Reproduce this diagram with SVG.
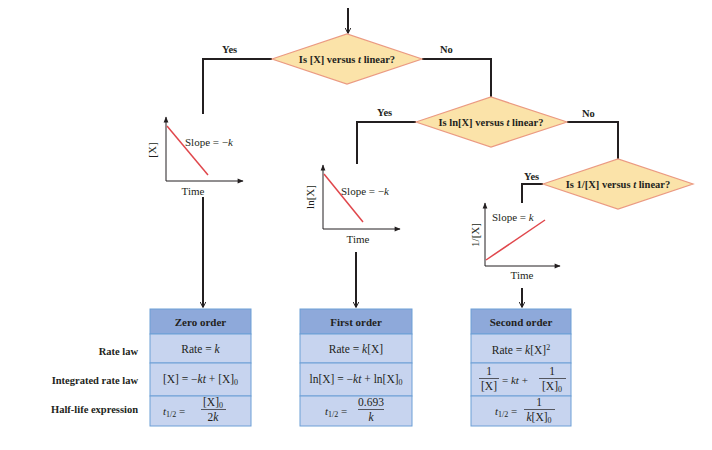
<svg xmlns="http://www.w3.org/2000/svg" width="712" height="450" viewBox="0 0 712 450">
<style>
text{font-family:"Liberation Serif","Times New Roman",serif;fill:#231f20}
.b{font-weight:bold;font-size:10.5px}
.q{font-weight:bold;font-size:10.5px;text-anchor:middle}
.h{font-weight:bold;font-size:11px;text-anchor:middle}
.lab{font-weight:bold;font-size:10.5px;text-anchor:end}
.t{font-size:11.5px;text-anchor:middle}
.g{font-size:11px;text-anchor:middle}
.s{font-size:11px}
.i{font-style:italic}
.dia{fill:#fbe3a9;stroke:#eb9a82;stroke-width:1.2}
.conn{fill:none;stroke:#231f20;stroke-width:2}
.ax{fill:none;stroke:#231f20;stroke-width:1}
.red{stroke:#e0474c;stroke-width:1.5}
.hd{fill:#8ea9da;stroke:#6d9fd6;stroke-width:1}
.row{fill:#c7d4ef;stroke:#6d9fd6;stroke-width:1}
.fr{stroke:#231f20;stroke-width:0.7}
</style>
<defs>
<marker id="ah" viewBox="0 0 10 10" refX="9" refY="5" markerWidth="6" markerHeight="6" orient="auto" markerUnits="userSpaceOnUse">
<path d="M0,0 L10,5 L0,10" fill="none" stroke="#231f20" stroke-width="1.6"/>
</marker>
<marker id="axh" viewBox="0 0 10 10" refX="9" refY="5" markerWidth="7" markerHeight="6" orient="auto" markerUnits="userSpaceOnUse">
<path d="M0,1 L10,5 L0,9 Z" fill="#231f20"/>
</marker>
</defs>
<g id="connectors">
<line class="conn" x1="348" y1="8" x2="348" y2="33" marker-end="url(#ah)"/>
<polyline class="conn" points="272,59 203,59 203,114"/>
<polyline class="conn" points="422,59 491,59 491,97"/>
<polyline class="conn" points="416,122 357,122 357,164"/>
<polyline class="conn" points="567,122 618,122 618,159"/>
<polyline class="conn" points="543,184 522,184 522,203"/>
<line class="conn" x1="203" y1="197" x2="203" y2="307" marker-end="url(#ah)"/>
<line class="conn" x1="356" y1="252" x2="356" y2="307" marker-end="url(#ah)"/>
<line class="conn" x1="522" y1="288" x2="522" y2="307" marker-end="url(#ah)"/>
<text class="b" x="222" y="53">Yes</text>
<text class="b" x="440" y="53">No</text>
<text class="b" x="377" y="116">Yes</text>
<text class="b" x="582" y="117">No</text>
<text class="b" x="524" y="180">Yes</text>
</g>
<g id="q1">
<polygon class="dia" points="272,59 347,34 422,59 347,84"/>
<text class="q" x="347" y="62.5">Is [X] versus <tspan class="i">t</tspan> linear?</text>
</g>
<g id="q2">
<polygon class="dia" points="416,122 491,97 567,122 491,147"/>
<text class="q" x="491" y="125.5">Is ln[X] versus <tspan class="i">t</tspan> linear?</text>
</g>
<g id="q3">
<polygon class="dia" points="543,184 618,159 693,184 618,209"/>
<text class="q" x="618" y="187.5">Is 1/[X] versus <tspan class="i">t</tspan> linear?</text>
</g>
<g id="graph1">
<polyline class="ax" points="166,181 243,181" marker-end="url(#axh)"/>
<line class="ax" x1="166" y1="181" x2="166" y2="117" marker-end="url(#axh)"/>
<line class="red" x1="167" y1="126" x2="208" y2="175"/>
<text class="s" x="185" y="146">Slope = −<tspan class="i">k</tspan></text>
<text class="g" x="193" y="195">Time</text>
<text class="g" transform="translate(156,150) rotate(-90)">[X]</text>
</g>
<g id="graph2">
<polyline class="ax" points="323,229 400,229" marker-end="url(#axh)"/>
<line class="ax" x1="323" y1="229" x2="323" y2="165" marker-end="url(#axh)"/>
<line class="red" x1="324" y1="174" x2="363" y2="222"/>
<text class="s" x="341" y="195">Slope = −<tspan class="i">k</tspan></text>
<text class="g" x="358" y="243">Time</text>
<text class="g" transform="translate(314,197) rotate(-90)">ln[X]</text>
</g>
<g id="graph3">
<polyline class="ax" points="485,266 560,266" marker-end="url(#axh)"/>
<line class="ax" x1="485" y1="266" x2="485" y2="203" marker-end="url(#axh)"/>
<line class="red" x1="486" y1="260" x2="545" y2="220"/>
<text class="s" x="492" y="221">Slope = <tspan class="i">k</tspan></text>
<text class="g" x="522" y="279">Time</text>
<text class="g" transform="translate(479,235) rotate(-90)">1/[X]</text>
</g>
<g id="labels">
<text class="lab" x="138" y="355">Rate law</text>
<text class="lab" x="138" y="384">Integrated rate law</text>
<text class="lab" x="138" y="413">Half-life expression</text>
</g>
<g id="zero">
<rect class="hd" x="150" y="309" width="101" height="25"/>
<rect class="row" x="150" y="334" width="101" height="29"/>
<rect class="row" x="150" y="363" width="101" height="33"/>
<rect class="row" x="150" y="396" width="101" height="30"/>
<text class="h" x="200.5" y="325.5">Zero order</text>
<text class="t" x="200.5" y="353">Rate = <tspan class="i">k</tspan></text>
<text class="t" x="200.5" y="383">[X] = −<tspan class="i">kt</tspan> + [X]<tspan font-size="8" dy="2">0</tspan></text>
<text class="s i" x="163" y="415">t<tspan font-size="8" font-style="normal" dy="2">1/2</tspan><tspan dy="-2" font-style="normal"> =</tspan></text>
<text class="t" x="213" y="406">[X]<tspan font-size="8" dy="2">0</tspan></text>
<line class="fr" x1="201" y1="409.5" x2="226" y2="409.5"/>
<text class="t" x="213" y="420.5">2<tspan class="i">k</tspan></text>
</g>
<g id="first">
<rect class="hd" x="300" y="309" width="112" height="25"/>
<rect class="row" x="300" y="334" width="112" height="29"/>
<rect class="row" x="300" y="363" width="112" height="33"/>
<rect class="row" x="300" y="396" width="112" height="30"/>
<text class="h" x="356" y="325.5">First order</text>
<text class="t" x="356" y="353">Rate = <tspan class="i">k</tspan>[X]</text>
<text class="t" x="356" y="383">ln[X] = −<tspan class="i">kt</tspan> + ln[X]<tspan font-size="8" dy="2">0</tspan></text>
<text class="s i" x="325" y="415">t<tspan font-size="8" font-style="normal" dy="2">1/2</tspan><tspan dy="-2" font-style="normal"> =</tspan></text>
<text class="t" x="371" y="406">0.693</text>
<line class="fr" x1="358" y1="409.5" x2="384" y2="409.5"/>
<text class="t i" x="371" y="420.5">k</text>
</g>
<g id="second">
<rect class="hd" x="471" y="309" width="100" height="25"/>
<rect class="row" x="471" y="334" width="100" height="29"/>
<rect class="row" x="471" y="363" width="100" height="33"/>
<rect class="row" x="471" y="396" width="100" height="30"/>
<text class="h" x="521" y="325.5">Second order</text>
<text class="t" x="521" y="354">Rate = <tspan class="i">k</tspan>[X]<tspan font-size="8" dy="-4">2</tspan></text>
<text class="t" x="489" y="375">1</text>
<line class="fr" x1="479" y1="378.5" x2="499" y2="378.5"/>
<text class="t" x="489" y="389.5">[X]</text>
<text class="s" x="502" y="384">= <tspan class="i">kt</tspan> +</text>
<text class="t" x="552" y="375">1</text>
<line class="fr" x1="539" y1="378.5" x2="566" y2="378.5"/>
<text class="t" x="552" y="389.5">[X]<tspan font-size="8" dy="2">0</tspan></text>
<text class="s i" x="495" y="415">t<tspan font-size="8" font-style="normal" dy="2">1/2</tspan><tspan dy="-2" font-style="normal"> =</tspan></text>
<text class="t" x="539" y="406">1</text>
<line class="fr" x1="524" y1="409.5" x2="555" y2="409.5"/>
<text class="t" x="539" y="420.5"><tspan class="i">k</tspan>[X]<tspan font-size="8" dy="2">0</tspan></text>
</g>
</svg>
